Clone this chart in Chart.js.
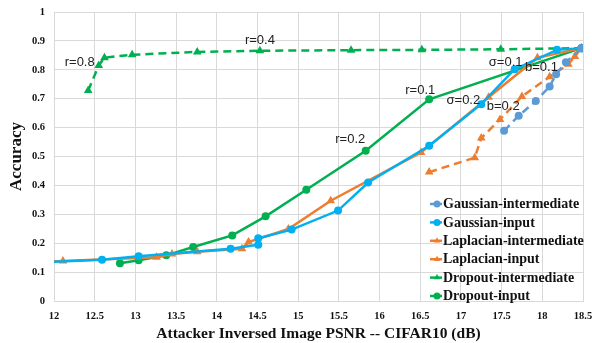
<!DOCTYPE html>
<html>
<head>
<meta charset="utf-8">
<script src="https://cdn.jsdelivr.net/npm/chart.js@4/dist/chart.umd.min.js"></script>
<style>
  html, body { margin: 0; padding: 0; background: #fff; }
  #chart { display: block; }
</style>
</head>
<body>
<canvas id="chart" width="592" height="343"></canvas>
<script>
// PSNR (dB) / accuracy pairs for each defence
const gaussInterPsnr = [17.53, 17.71, 17.92, 18.09, 18.17, 18.29, 18.48];
const gaussInterAcc = [0.589, 0.641, 0.692, 0.742, 0.785, 0.826, 0.875];

const gaussInputPsnr = [11.8, 12.59, 13.04, 14.17, 14.51, 14.51, 14.92, 15.49, 15.86, 16.61, 17.25, 17.66, 18.18, 18.48];
const gaussInputAcc = [0.133, 0.143, 0.155, 0.181, 0.195, 0.217, 0.247, 0.313, 0.41, 0.537, 0.681, 0.802, 0.869, 0.875];

const lapInterPsnr = [16.61, 17.17, 17.25, 17.48, 17.75, 18.09, 18.32, 18.40, 18.48];
const lapInterAcc = [0.446, 0.496, 0.564, 0.628, 0.708, 0.776, 0.819, 0.846, 0.875];

const lapInputPsnr = [11.8, 12.11, 13.26, 13.45, 13.76, 14.31, 14.39, 14.88, 15.40, 16.51, 17.34, 17.94, 18.48];
const lapInputAcc = [0.134, 0.138, 0.151, 0.163, 0.170, 0.181, 0.204, 0.249, 0.347, 0.514, 0.705, 0.842, 0.875];

const dropInterPsnr = [12.42, 12.55, 12.62, 12.96, 13.76, 14.53, 15.65, 16.52, 17.49, 18.48];
const dropInterAcc = [0.728, 0.815, 0.842, 0.852, 0.862, 0.866, 0.868, 0.869, 0.871, 0.875];

const dropInputPsnr = [12.81, 13.04, 13.38, 13.71, 14.19, 14.60, 15.10, 15.83, 16.61, 18.48];
const dropInputAcc = [0.131, 0.141, 0.158, 0.187, 0.227, 0.293, 0.385, 0.520, 0.698, 0.875];

// noise-level notes, placed in data units
const noteText = ['r=0.8', 'r=0.4', 'r=0.1', 'r=0.2', 'σ=0.1', 'b=0.1', 'σ=0.2', 'b=0.2'];
const notePsnr = [12.316, 14.53, 16.50, 15.64, 17.55, 17.99, 17.03, 17.52];
const noteAcc = [0.825, 0.901, 0.730, 0.558, 0.826, 0.809, 0.693, 0.673];

const BLUE = '#00B0F0';
const STEEL = '#5B9BD5';
const ORANGE = '#ED7D31';
const GREEN = '#00B050';

const zip = (xs, ys) => xs.map((x, i) => ({ x: x, y: ys[i] }));

function series(label, xs, ys, color, style, dashed) {
  return {
    label: label,
    data: zip(xs, ys),
    showLine: true,
    borderColor: color,
    backgroundColor: color,
    borderWidth: 2.5,
    borderDash: dashed ? [8, 5] : [],
    pointStyle: style,
    pointRadius: style === 'triangle' ? 5 : 4,
    pointBorderWidth: 0,
    tension: 0
  };
}

const datasets = [
  series('Gaussian-intermediate', gaussInterPsnr, gaussInterAcc, STEEL, 'circle', true),
  series('Gaussian-input', gaussInputPsnr, gaussInputAcc, BLUE, 'circle', false),
  series('Laplacian-intermediate', lapInterPsnr, lapInterAcc, ORANGE, 'triangle', true),
  series('Laplacian-input', lapInputPsnr, lapInputAcc, ORANGE, 'triangle', false),
  series('Dropout-intermediate', dropInterPsnr, dropInterAcc, GREEN, 'triangle', true),
  series('Dropout-input', dropInputPsnr, dropInputAcc, GREEN, 'circle', false)
];

// text notes next to the curves
const notesPlugin = {
  id: 'notes',
  afterDatasetsDraw(chart) {
    const { ctx, scales: { x, y } } = chart;
    ctx.save();
    ctx.font = '13px "Liberation Sans", Arial, sans-serif';
    ctx.fillStyle = '#222';
    ctx.textAlign = 'center';
    ctx.textBaseline = 'middle';
    noteText.forEach((t, i) => {
      ctx.fillText(t, x.getPixelForValue(notePsnr[i]), y.getPixelForValue(noteAcc[i]));
    });
    ctx.restore();
  }
};

// legend box in the lower right of the plot
const legendPlugin = {
  id: 'innerLegend',
  afterDraw(chart) {
    const { ctx, chartArea } = chart;
    const left = chartArea.right - 153;
    const top = chartArea.bottom - 97;
    ctx.save();
    ctx.font = 'bold 14px "Liberation Serif", "Times New Roman", serif';
    ctx.textBaseline = 'middle';
    chart.data.datasets.forEach((ds, i) => {
      const cy = top + i * 18.4;
      ctx.strokeStyle = ds.borderColor;
      ctx.lineWidth = 2.5;
      ctx.setLineDash([]);
      ctx.beginPath();
      ctx.moveTo(left, cy);
      ctx.lineTo(left + 12, cy);
      ctx.stroke();
      ctx.fillStyle = ds.backgroundColor;
      Chart.helpers.drawPoint(ctx, {
        pointStyle: ds.pointStyle,
        radius: 3.5,
        rotation: 0,
        borderWidth: 0
      }, left + 7, cy);
      ctx.fillStyle = '#111';
      ctx.fillText(ds.label, left + 13, cy + 0.5);
    });
    ctx.restore();
  }
};

const tickFont = { family: '"Liberation Serif", "Times New Roman", serif', size: 10.5, weight: 'bold' };

new Chart(document.getElementById('chart'), {
  type: 'scatter',
  data: { datasets: datasets },
  options: {
    responsive: false,
    animation: false,
    layout: { padding: { top: 12, right: 9, left: 0, bottom: 0 } },
    plugins: {
      legend: { display: false },
      tooltip: { enabled: false }
    },
    scales: {
      x: {
        type: 'linear',
        min: 12,
        max: 18.5,
        afterFit: s => {
          s.height = 42;
          s.paddingLeft = 0;
          s.paddingRight = 0;
        },
        ticks: {
          stepSize: 0.5,
          color: '#111',
          font: tickFont,
          padding: 9,
          callback: v => String(v)
        },
        grid: { color: '#d9d9d9', lineWidth: 1, drawTicks: false },
        border: { color: '#d9d9d9' },
        title: {
          display: true,
          text: 'Attacker Inversed Image PSNR -- CIFAR10 (dB)',
          color: '#111',
          font: { family: '"Liberation Serif", "Times New Roman", serif', size: 15.5, weight: 'bold' },
          padding: { top: 2, bottom: 0 }
        }
      },
      y: {
        min: 0,
        max: 1,
        afterFit: s => {
          s.width = 54;
          s.paddingTop = 0;
          s.paddingBottom = 0;
        },
        ticks: {
          stepSize: 0.1,
          color: '#111',
          font: tickFont,
          padding: 9,
          callback: v => String(Math.round(v * 10) / 10)
        },
        grid: { color: '#d9d9d9', lineWidth: 1, drawTicks: false },
        border: { color: '#d9d9d9' },
        title: {
          display: true,
          text: 'Accuracy',
          color: '#111',
          font: { family: '"Liberation Serif", "Times New Roman", serif', size: 17, weight: 'bold' },
          padding: { top: 6, bottom: 0 }
        }
      }
    }
  },
  plugins: [notesPlugin, legendPlugin]
});
</script>
</body>
</html>
